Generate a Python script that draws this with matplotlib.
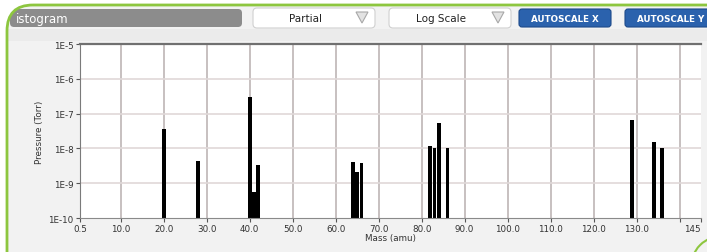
import matplotlib.pyplot as plt
from matplotlib.patches import FancyBboxPatch, Rectangle, Polygon, Arc

# peaks
mass = [20, 28, 40, 41, 42, 64, 65, 66, 82, 83, 84, 86, 129, 134, 136]
pressure = [3.5e-8, 4.3e-9, 3.0e-7, 5.5e-10, 3.3e-9, 4.1e-9, 2.1e-9, 3.8e-9,
            1.15e-8, 1.0e-8, 5.3e-8, 1.0e-8, 6.6e-8, 1.56e-8, 1.0e-8]

x_ticks = [0.5, 10, 20, 30, 40, 50, 60, 70, 80, 90, 100, 110, 120, 130, 140, 145]
x_labels = ["0.5", "10.0", "20.0", "30.0", "40.0", "50.0", "60.0", "70.0", "80.0",
            "90.0", "100.0", "110.0", "120.0", "130.0", "", "145"]
y_ticks = [1e-10, 1e-9, 1e-8, 1e-7, 1e-6, 1e-5]
y_labels = ["1E-10", "1E-9", "1E-8", "1E-7", "1E-6", "1E-5"]

W, H = 707, 253
fig = plt.figure(figsize=(W / 100, H / 100), dpi=100)
fig.patch.set_facecolor("white")

# background layer in pixel coords (y down)
bg = fig.add_axes([0, 0, 1, 1], zorder=0)
bg.set_xlim(0, W)
bg.set_ylim(H, 0)
bg.axis("off")

green = "#8dc63f"
panel = FancyBboxPatch((7, 6), 760, 300, boxstyle="round,pad=0,rounding_size=26",
                       fc="#f2f2f2", ec="none")
bg.add_patch(panel)
band = Rectangle((0, 30), W, 12, fc="#ebebeb", ec="none")
bg.add_patch(band)
band.set_clip_path(panel)

# header widgets
hist_box = FancyBboxPatch((10, 10), 232, 18, boxstyle="round,pad=0,rounding_size=4",
                          fc="#8c8c8c", ec="none")
bg.add_patch(hist_box)
hist_box.set_clip_path(panel)
bg.text(16, 19.5, "istogram", color="white", fontsize=8.5, va="center", ha="left")

for x0, txt in [(253, "Partial"), (389, "Log Scale")]:
    bg.add_patch(FancyBboxPatch((x0, 9), 122, 20, boxstyle="round,pad=0,rounding_size=4",
                                fc="white", ec="#d0d0d0", lw=0.8))
    bg.text(x0 + 52, 19, txt, fontsize=7.5, color="#222222", ha="center", va="center")
    tx = x0 + 109
    bg.add_patch(Polygon([(tx - 6, 13), (tx + 6, 13), (tx, 24)], closed=True,
                         fc="#e2e2e2", ec="#a8a8a8", lw=0.8))

for x0, txt in [(519, "AUTOSCALE X"), (625, "AUTOSCALE Y")]:
    bg.add_patch(FancyBboxPatch((x0, 10), 92, 18, boxstyle="round,pad=0,rounding_size=3",
                                fc="#2b62ad", ec="#1d4a8a", lw=0.8))
    bg.text(x0 + 46, 19.5, txt, fontsize=6.3, color="white", weight="bold",
            ha="center", va="center")

# green border on top of everything in the header
bg.add_patch(FancyBboxPatch((7, 6), 760, 300, boxstyle="round,pad=0,rounding_size=26",
                            fc="none", ec=green, lw=2, zorder=5))
bg.add_patch(Arc((722, 268), 62, 62, theta1=200, theta2=250, color=green, lw=1.5, zorder=5))

# histogram axes
ax = fig.add_axes([80 / W, 34 / H, 621 / W, 174 / H], zorder=1)
ax.set_facecolor("white")
ax.set_yscale("log")
ax.set_xlim(0.5, 145)
ax.set_ylim(1e-10, 1e-5)

for x in x_ticks[1:-1]:
    ax.axvline(x, color="#bdb5b5", lw=1.2, zorder=0)
for y in y_ticks[1:-1]:
    ax.axhline(y, color="#e0d8d8", lw=1.2, zorder=0)

ax.bar(mass, [p - 1e-10 for p in pressure], bottom=1e-10, width=0.9,
       color="black", zorder=2)

ax.set_xticks(x_ticks)
ax.set_xticklabels(x_labels)
ax.set_yticks(y_ticks)
ax.set_yticklabels(y_labels)
ax.minorticks_off()
ax.tick_params(axis="both", labelsize=6.3, colors="#555555", labelcolor="#333333",
               length=3, width=0.8, pad=1.5)
ax.get_xticklabels()[-1].set_horizontalalignment("right")

ax.set_xlabel("Mass (amu)", fontsize=6.3, color="#333333", labelpad=0)
ax.set_ylabel("Pressure (Torr)", fontsize=6.3, color="#333333", labelpad=3)

ax.spines["right"].set_visible(False)
ax.spines["top"].set_color("#707070")
ax.spines["top"].set_linewidth(1.6)
ax.spines["left"].set_color("#7a7a7a")
ax.spines["bottom"].set_color("#8a8a8a")

plt.savefig("out.png", dpi=100)
